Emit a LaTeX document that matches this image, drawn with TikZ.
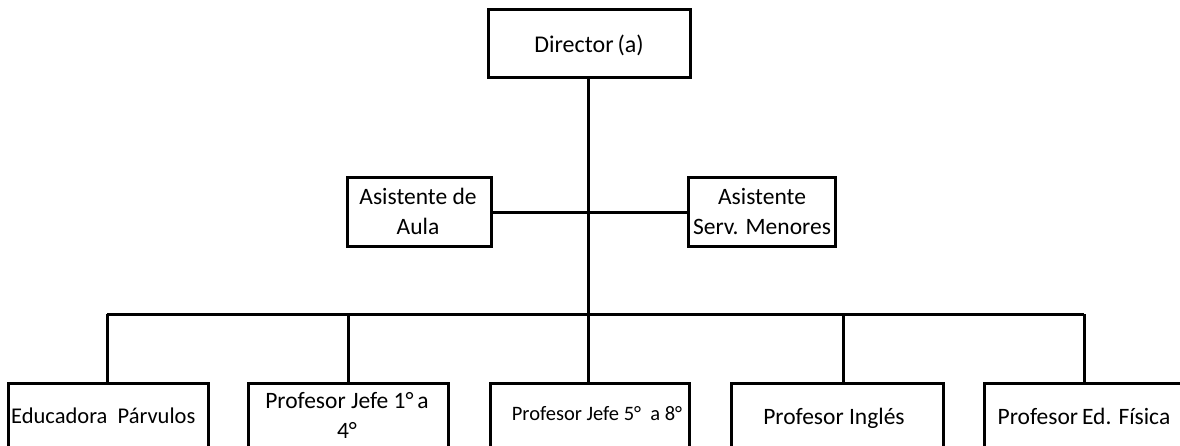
\documentclass[tikz,border=0pt]{standalone}
\usepackage{fontspec}
\setmainfont{Carlito}
\begin{document}
\begin{tikzpicture}[x=1pt,y=-1pt,
  box/.style={draw=black,line width=3pt,fill=white,inner sep=0pt},
  conn/.style={draw=black,line width=3pt},
  lbl/.style={font=\fontsize{23.5}{30}\selectfont,inner sep=0pt,align=center},
  lbls/.style={font=\fontsize{20.5}{26}\selectfont,inner sep=0pt,align=center}]
\clip (0,0) rectangle (1180,446);
\useasboundingbox (0,0) rectangle (1180,446);
% boxes
\path[box] (488,10) rectangle (690,78);
\node[box,minimum width=144pt,minimum height=69pt] (aula) at (419,212.5) {};
\node[box,minimum width=147pt,minimum height=69pt] (serv) at (761.5,212.5) {};
\coordinate (dir) at (588,78);
\coordinate (hub) at (588,212.5);
\coordinate (bus) at (588,314);
\coordinate (b1) at (107,314);
\coordinate (b2) at (348,314);
\coordinate (b4) at (843,314);
\coordinate (b5) at (1084,314);
\node[box,minimum width=200pt,minimum height=120pt,anchor=north west] (e1) at (7,382) {};
\node[box,minimum width=200pt,minimum height=120pt,anchor=north west] (e2) at (247,382) {};
\node[box,minimum width=199pt,minimum height=120pt,anchor=north west] (e3) at (489,382) {};
\node[box,minimum width=212pt,minimum height=120pt,anchor=north west] (e4) at (730,382) {};
\node[box,minimum width=220pt,minimum height=120pt,anchor=north west] (e5) at (983,382) {};
% connectors
\draw[conn] (dir) -- (hub) -- (bus);
\draw[conn] (aula.east) -- (hub) -- (serv.west);
\draw[conn] (b1) -- (b5);
\draw[conn] (b1) -- (b1 |- e1.north);
\draw[conn] (b2) -- (b2 |- e2.north);
\draw[conn] (bus) -- (bus |- e3.north);
\draw[conn] (b4) -- (b4 |- e4.north);
\draw[conn] (b5) -- (b5 |- e5.north);
% labels
\node[lbl,anchor=base,font=\fontsize{24}{30}\selectfont] (t0) at (589,53) {Director\,(a)};
\node[lbl,anchor=base] (t1) at (418,235) {Asistente de\\Aula};
\node[lbl,anchor=base] (t2) at (762,235) {Asistente\\Serv. Menores};
\node[lbl,anchor=base west,font=\fontsize{22.5}{30}\selectfont] (t3) at (11,423) {Educadora\ \ Párvulos};
\node[lbl,anchor=base] (t4) at (347,438) {Profesor Jefe 1°\,a\\4°};
\node[lbls,anchor=base] (t5) at (597,420) {Profesor Jefe 5°\ \ a 8°};
\node[lbl,anchor=base] (t6) at (834,424) {Profesor Inglés};
\node[lbl,anchor=base] (t7) at (1084,424) {Profesor\,Ed. Física};
\end{tikzpicture}
\end{document}
